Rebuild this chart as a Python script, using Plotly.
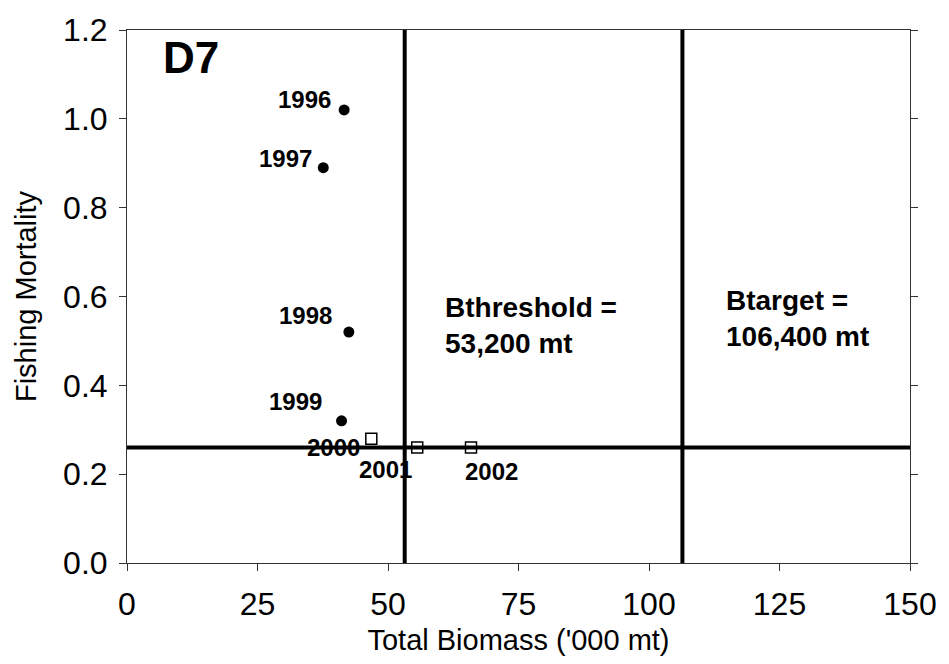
import plotly.graph_objects as go

# Stock status: total biomass vs fishing mortality by year
years = ["1996", "1997", "1998", "1999", "2000", "2001", "2002"]
biomass = [41.6, 37.6, 42.5, 41.1, 46.8, 55.6, 65.9]   # '000 mt
fishing_mortality = [1.02, 0.89, 0.52, 0.32, 0.28, 0.26, 0.26]
observed = [True, True, True, True, False, False, False]  # filled vs open markers

b_threshold = 53.2
b_target = 106.4
f_reference = 0.26

# label offsets (pixels) for the year annotations
label_dx = [-40, -38, -43, -46, -38, -32, 20]
label_dy = [10, 9, 17, 19, -9, -22, -24]

FONT = "Liberation Sans, Arial, sans-serif"

fig = go.Figure()

# reference lines
fig.add_trace(go.Scatter(x=[b_threshold, b_threshold], y=[0, 1.2], mode="lines",
                         line=dict(color="black", width=4), showlegend=False, hoverinfo="skip"))
fig.add_trace(go.Scatter(x=[b_target, b_target], y=[0, 1.2], mode="lines",
                         line=dict(color="black", width=4), showlegend=False, hoverinfo="skip"))
fig.add_trace(go.Scatter(x=[0, 150], y=[f_reference, f_reference], mode="lines",
                         line=dict(color="black", width=4), showlegend=False, hoverinfo="skip"))

xs_f = [b for b, o in zip(biomass, observed) if o]
ys_f = [f for f, o in zip(fishing_mortality, observed) if o]
xs_o = [b for b, o in zip(biomass, observed) if not o]
ys_o = [f for f, o in zip(fishing_mortality, observed) if not o]

fig.add_trace(go.Scatter(x=xs_f, y=ys_f, mode="markers",
                         marker=dict(symbol="circle", size=11, color="black"),
                         showlegend=False))
fig.add_trace(go.Scatter(x=xs_o, y=ys_o, mode="markers",
                         marker=dict(symbol="square-open", size=11, color="black",
                                     line=dict(width=1.5, color="black")),
                         showlegend=False))

annotations = []
for yr, xv, yv, dx, dy in zip(years, biomass, fishing_mortality, label_dx, label_dy):
    annotations.append(dict(x=xv, y=yv, text=yr, showarrow=False, xshift=dx, yshift=dy,
                            font=dict(family=FONT, size=24, color="black", weight="bold")))

annotations.append(dict(x=12.2, y=1.138, text="D7", showarrow=False,
                        font=dict(family=FONT, size=44, color="black", weight="bold")))
annotations.append(dict(x=60.6, y=0.534, text="Bthreshold =<br>53,200 mt", showarrow=False,
                        xanchor="left", align="left",
                        font=dict(family=FONT, size=28, color="black", weight="bold")))
annotations.append(dict(x=114.3, y=0.55, text="Btarget =<br>106,400 mt", showarrow=False,
                        xanchor="left", align="left",
                        font=dict(family=FONT, size=28, color="black", weight="bold")))

AXIS_COLOR = "#333"

fig.update_layout(
    width=949, height=664,
    margin=dict(l=127, r=29, t=24, b=101),
    plot_bgcolor="white", paper_bgcolor="white",
    font=dict(family=FONT, color="black"),
    annotations=annotations,
    xaxis=dict(range=[0, 150], tickvals=[0, 25, 50, 75, 100, 125, 150],
               showgrid=False, zeroline=False, showline=True, linecolor=AXIS_COLOR, linewidth=1,
               mirror=True, ticks="outside", ticklen=7, tickcolor=AXIS_COLOR,
               tickfont=dict(size=32), ticklabelstandoff=6,
               title=dict(text="Total Biomass ('000 mt)", font=dict(size=29), standoff=8)),
    yaxis=dict(range=[0, 1.2], tickvals=[0, 0.2, 0.4, 0.6, 0.8, 1.0, 1.2], tickformat=".1f",
               showgrid=False, zeroline=False, showline=True, linecolor=AXIS_COLOR, linewidth=1,
               mirror="ticks", ticks="outside", ticklen=7, tickcolor=AXIS_COLOR,
               tickfont=dict(size=32), ticklabelstandoff=5,
               title=dict(text="Fishing Mortality", font=dict(size=29), standoff=17)),
)

fig.write_html("out.html")
